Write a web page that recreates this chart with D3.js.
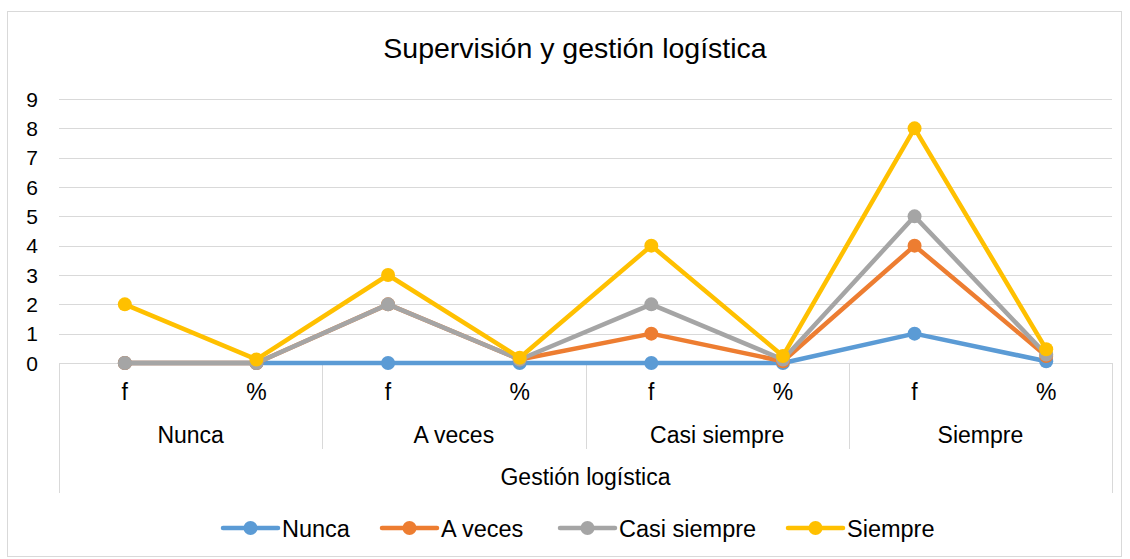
<!DOCTYPE html>
<html>
<head>
<meta charset="utf-8">
<script src="https://cdn.jsdelivr.net/npm/d3@7"></script>
<style>
  html, body { margin: 0; padding: 0; background: #fff; }
  svg { display: block; font-family: "Liberation Sans", Arial, sans-serif; }
</style>
</head>
<body>
<svg id="chart" width="1130" height="559"></svg>
<script>
// ---- Data ----
const title = "Supervisión y gestión logística";
const axisTitle = "Gestión logística";
const groups = ["Nunca", "A veces", "Casi siempre", "Siempre"];
const subLabels = ["f", "%"];
const seriesNames = ["Nunca", "A veces", "Casi siempre", "Siempre"];
const nunca       = [0, 0,    0, 0,    0, 0,    1, 0.06];
const aVeces      = [0, 0,    2, 0.12, 1, 0.06, 4, 0.24];
const casiSiempre = [0, 0,    2, 0.12, 2, 0.12, 5, 0.29];
const siempre     = [2, 0.12, 3, 0.18, 4, 0.24, 8, 0.47];
const yTicks = [0, 1, 2, 3, 4, 5, 6, 7, 8, 9];
const colors = ["#5B9BD5", "#ED7D31", "#A5A5A5", "#FFC000"];

const seriesValues = [nunca, aVeces, casiSiempre, siempre];
const cats = [];
groups.forEach((g, gi) => subLabels.forEach((s, si) => cats.push({ g, s, i: gi * subLabels.length + si })));

// ---- Layout ----
const svg = d3.select("#chart");
const plotLeft = 59, plotRight = 1112, plotTop = 99, plotBottom = 363;

svg.append("rect").attr("x", 7.5).attr("y", 11.5).attr("width", 1114).attr("height", 545)
  .attr("fill", "#fff").attr("stroke", "#d9d9d9").attr("stroke-width", 1);

const x = d3.scaleBand().domain(cats.map(c => c.i)).range([plotLeft, plotRight]);
const xg = d3.scaleBand().domain(groups).range([plotLeft, plotRight]);
const y = d3.scaleLinear().domain([0, 9]).range([plotBottom, plotTop]);

// Gridlines
svg.append("g").selectAll("line").data(yTicks.filter(t => t > 0)).join("line")
  .attr("x1", plotLeft).attr("x2", plotRight)
  .attr("y1", d => Math.round(y(d)) + 0.5).attr("y2", d => Math.round(y(d)) + 0.5)
  .attr("stroke", "#d9d9d9").attr("stroke-width", 1);

// Y tick labels
svg.append("g").selectAll("text").data(yTicks).join("text")
  .attr("x", 38).attr("y", d => y(d)).attr("dy", "0.36em")
  .attr("text-anchor", "end").attr("font-size", 21).attr("fill", "#000")
  .text(d => d);

// Category axis (multi-level)
const axisG = svg.append("g").attr("stroke", "#d9d9d9").attr("stroke-width", 1);
axisG.append("line").attr("x1", plotLeft).attr("x2", plotRight).attr("y1", plotBottom + 0.5).attr("y2", plotBottom + 0.5);
[plotLeft, plotRight].forEach(xx => axisG.append("line").attr("x1", xx + 0.5).attr("x2", xx + 0.5)
  .attr("y1", plotBottom).attr("y2", 493));
groups.slice(1).forEach(g => {
  const xx = Math.round(xg(g)) + 0.5;
  axisG.append("line").attr("x1", xx).attr("x2", xx).attr("y1", plotBottom).attr("y2", 449);
});

svg.append("g").selectAll("text").data(cats).join("text")
  .attr("x", d => x(d.i) + x.bandwidth() / 2).attr("y", 400)
  .attr("text-anchor", "middle").attr("font-size", 23).attr("fill", "#000")
  .text(d => d.s);

svg.append("g").selectAll("text").data(groups).join("text")
  .attr("x", d => xg(d) + xg.bandwidth() / 2).attr("y", 443)
  .attr("text-anchor", "middle").attr("font-size", 23).attr("fill", "#000")
  .text(d => d);

svg.append("text").attr("x", (plotLeft + plotRight) / 2).attr("y", 485)
  .attr("text-anchor", "middle").attr("font-size", 23).attr("fill", "#000").text(axisTitle);

// Title
svg.append("text").attr("x", 575).attr("y", 58).attr("text-anchor", "middle")
  .attr("font-size", 28.5).attr("fill", "#000").text(title);

// Series
const line = d3.line().x((d, i) => x(i) + x.bandwidth() / 2).y(d => y(d));
seriesValues.forEach((vals, si) => {
  const g = svg.append("g");
  g.append("path").datum(vals).attr("d", line).attr("fill", "none")
    .attr("stroke", colors[si]).attr("stroke-width", 4.5).attr("stroke-linejoin", "round").attr("stroke-linecap", "round");
  g.selectAll("circle").data(vals).join("circle")
    .attr("cx", (d, i) => x(i) + x.bandwidth() / 2).attr("cy", d => y(d))
    .attr("r", 7).attr("fill", colors[si]);
});

// Legend
const legendX = [223, 382, 560, 788];
const legendY = 528;
const lg = svg.append("g");
seriesNames.forEach((name, i) => {
  const x0 = legendX[i];
  lg.append("line").attr("x1", x0).attr("x2", x0 + 55).attr("y1", legendY).attr("y2", legendY)
    .attr("stroke", colors[i]).attr("stroke-width", 4.5).attr("stroke-linecap", "round");
  lg.append("circle").attr("cx", x0 + 27.5).attr("cy", legendY).attr("r", 7).attr("fill", colors[i]);
  lg.append("text").attr("x", x0 + 59).attr("y", 537).attr("font-size", 23.5).attr("fill", "#000").text(name);
});
</script>
</body>
</html>
